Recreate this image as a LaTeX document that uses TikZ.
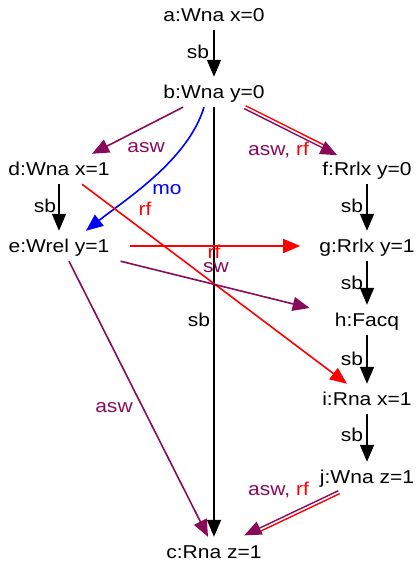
\documentclass[tikz,border=0pt]{standalone}
\usepackage{fontspec}
\setmainfont{Liberation Sans}[FakeStretch=1.13]
\usetikzlibrary{arrows.meta,calc}
\definecolor{aswcol}{HTML}{8A0A5A}
\definecolor{rfcol}{HTML}{FF0000}
\definecolor{mocol}{HTML}{0000FF}
\tikzset{
  evt/.style={inner xsep=2pt,inner ysep=8.5pt,text height=13pt,text depth=0pt},
  lbl/.style={inner sep=0pt},
  rel/.style={line width=1.6pt,-{Triangle[length=17pt,width=14pt]}},
  sbrel/.style={rel,black},
  aswrel/.style={rel,aswcol},
  rfrel/.style={rel,rfcol},
  morel/.style={rel,mocol},
  dblasw/.style={aswrel,line width=1.4pt},
  dblrf/.style={rfcol,line width=1.4pt,shorten >=16pt}
}
\begin{document}
\begin{tikzpicture}[x=1pt,y=-1pt,font=\fontsize{18.6}{21}\selectfont]
  \useasboundingbox (0,0) rectangle (417,564);

  % events
  \node[evt] (a) at (214,15) {a:Wna x=0};
  \node[evt] (b) at (214,92) {b:Wna y=0};
  \node[evt] (d) at (59,169) {d:Wna x=1};
  \node[evt] (f) at (367,169) {f:Rrlx y=0};
  \node[evt] (e) at (59,246) {e:Wrel y=1};
  \node[evt] (g) at (367,246) {g:Rrlx y=1};
  \node[evt] (h) at (367,320) {h:Facq};
  \node[evt] (i) at (367,399) {i:Rna x=1};
  \node[evt] (j) at (367,477) {j:Wna z=1};
  \node[evt] (c) at (214,552) {c:Rna z=1};

  % sequenced-before
  \draw[sbrel] (a) -- (b);
  \draw[sbrel] (b) -- (c);
  \draw[sbrel] (d) -- (e);
  \draw[sbrel] (f) -- (g);
  \draw[sbrel] (g) -- (h);
  \draw[sbrel] (h) -- (i);
  \draw[sbrel] (i) -- (j);
  \node[lbl] (lab) at (198,52) {sb};
  \node[lbl] (lbc) at (199,320) {sb};
  \node[lbl] (lde) at (45,206) {sb};
  \node[lbl] (lfg) at (352,206) {sb};
  \node[lbl] (lgh) at (352,283) {sb};
  \node[lbl] (lhi) at (352,359) {sb};
  \node[lbl] (lij) at (352,435) {sb};

  % other relations
  \draw[aswrel] ([xshift=-31pt]b.south) -- ([xshift=33pt]d.north);
  \node[lbl,text=aswcol] (lbd) at (146,148) {asw};
  \draw[morel] ([xshift=-10pt]b.south) .. controls +(-16,53) and +(39,-31) .. ([xshift=27pt]e.north);
  \node[lbl,text=mocol] (lbe) at (167,190) {mo};
  \draw[rfrel] ([xshift=23pt]d.south) -- ([xshift=-20pt]i.north);
  \node[lbl,text=rfcol] (ldi) at (145,209) {rf};
  \draw[rfrel] ([xshift=18pt]e.east) -- ([xshift=-17pt]g.west);
  \node[lbl,text=rfcol] (leg) at (214,252) {rf};
  \draw[aswrel] ([xshift=9pt]e.south east) -- ([shift={(-23,-12)}]h.west);
  \node[lbl,text=aswcol] (leh) at (216,268) {sw};
  \draw[aswrel] ([xshift=10pt]e.south) -- ([xshift=-6pt]c.north);
  \node[lbl,text=aswcol] (lec) at (114,408) {asw};

  % asw + rf pairs
  \coordinate (bf0) at ([xshift=31pt]b.south);
  \coordinate (bf1) at ([xshift=-29pt]f.north);
  \draw[dblrf] ($(bf0)!1.6pt!90:(bf1)$) -- ($(bf1)!1.6pt!-90:(bf0)$);
  \draw[dblasw] ($(bf0)!1.6pt!-90:(bf1)$) -- ($(bf1)!1.6pt!90:(bf0)$);
  \node[lbl,anchor=base west] (lbf) at (248,156) {\textcolor{aswcol}{asw,} \textcolor{rfcol}{rf}};
  \coordinate (jc0) at ([xshift=-28pt]j.south);
  \coordinate (jc1) at ([xshift=31pt]c.north);
  \draw[dblrf] ($(jc0)!1.6pt!90:(jc1)$) -- ($(jc1)!1.6pt!-90:(jc0)$);
  \draw[dblasw] ($(jc0)!1.6pt!-90:(jc1)$) -- ($(jc1)!1.6pt!90:(jc0)$);
  \node[lbl,anchor=base west] (ljc) at (248,495) {\textcolor{aswcol}{asw,} \textcolor{rfcol}{rf}};
\end{tikzpicture}
\end{document}
